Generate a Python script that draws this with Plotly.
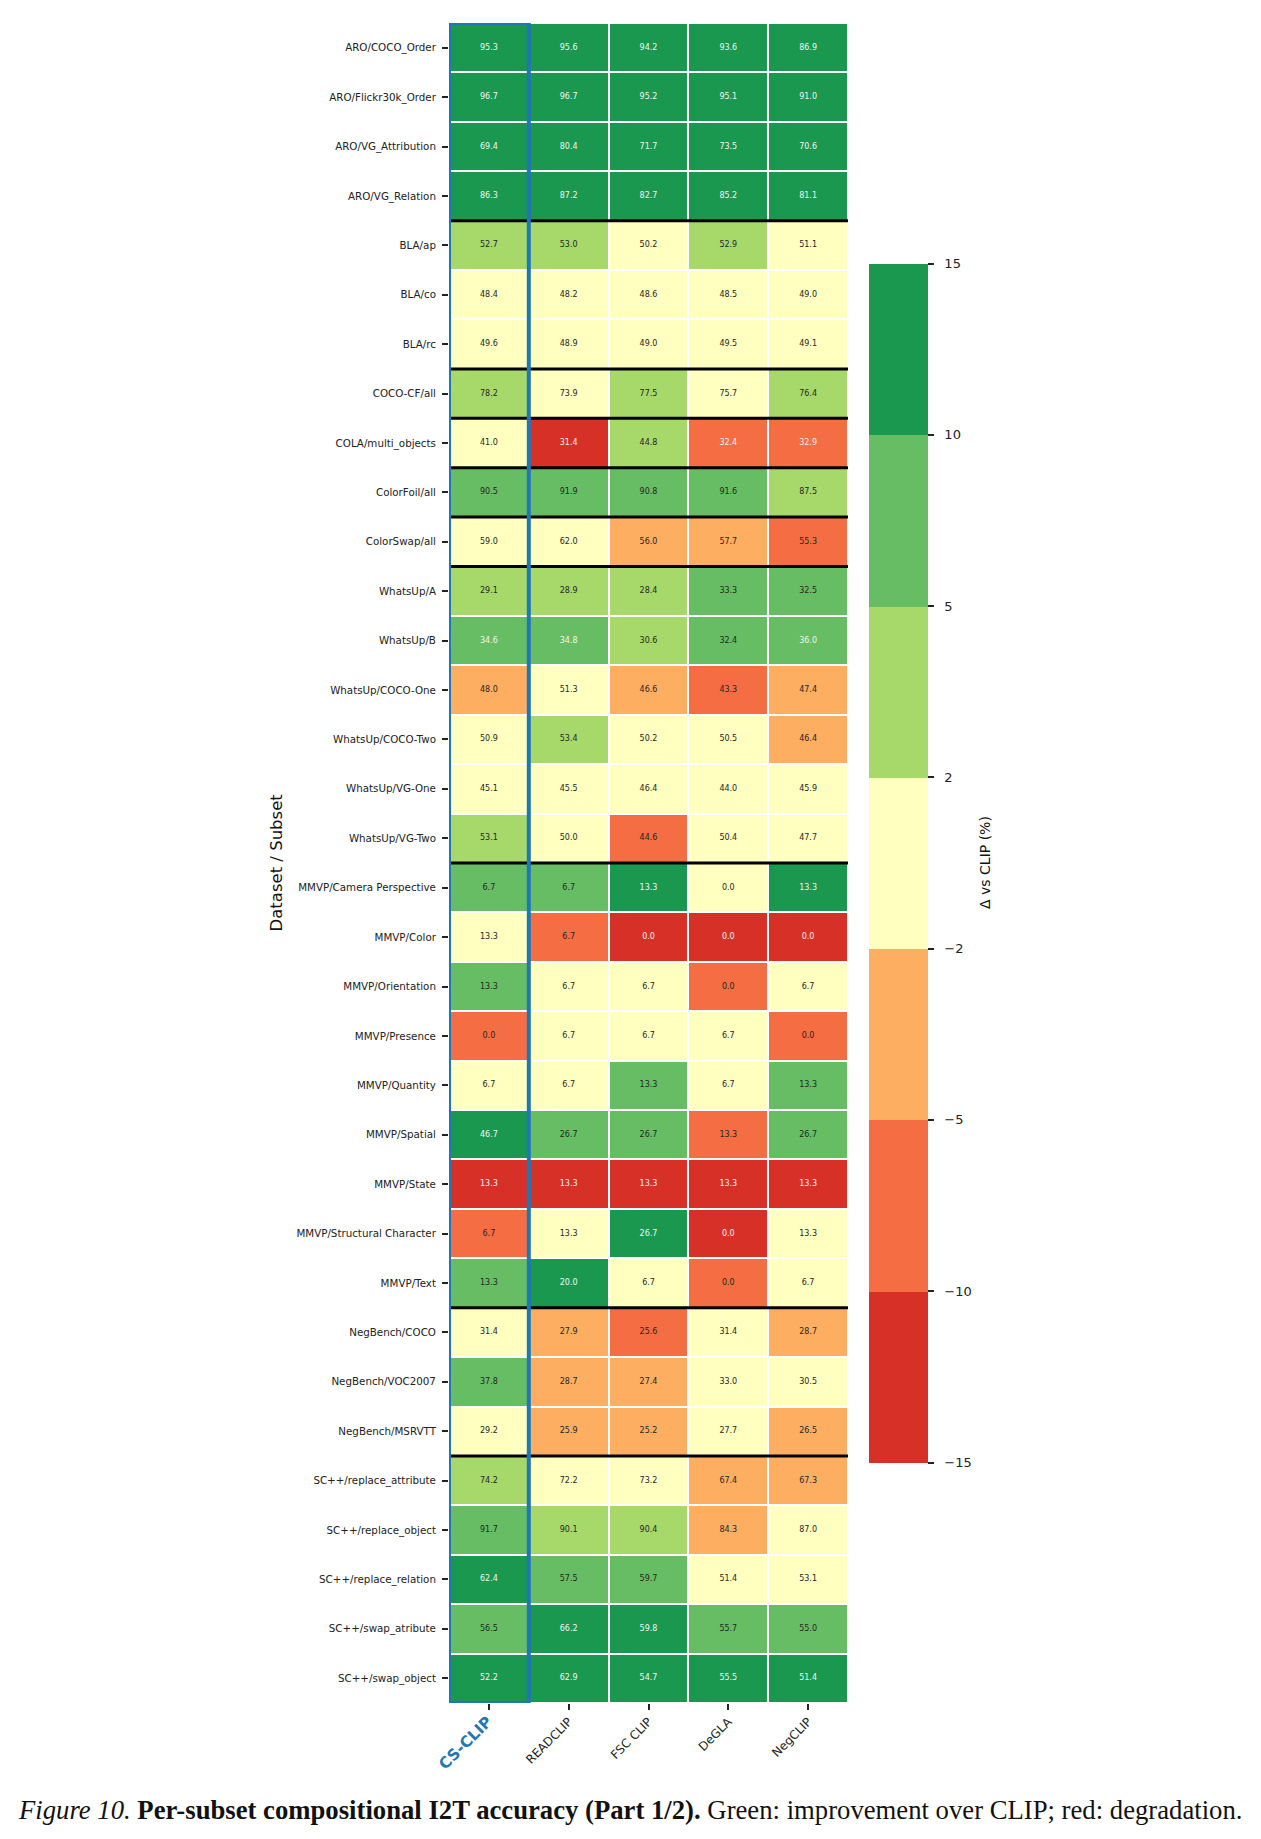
import numpy as np
import plotly.graph_objects as go

models = ["CS-CLIP", "READCLIP", "FSC CLIP", "DeGLA", "NegCLIP"]
model_labels = ["<span style='color:#1f77b4;font-size:15.5px'><b>CS-CLIP</b></span>",
                "READCLIP", "FSC CLIP", "DeGLA", "NegCLIP"]

subsets = [
    "ARO/COCO_Order", "ARO/Flickr30k_Order", "ARO/VG_Attribution", "ARO/VG_Relation",
    "BLA/ap", "BLA/co", "BLA/rc",
    "COCO-CF/all", "COLA/multi_objects", "ColorFoil/all", "ColorSwap/all",
    "WhatsUp/A", "WhatsUp/B", "WhatsUp/COCO-One", "WhatsUp/COCO-Two",
    "WhatsUp/VG-One", "WhatsUp/VG-Two",
    "MMVP/Camera Perspective", "MMVP/Color", "MMVP/Orientation", "MMVP/Presence",
    "MMVP/Quantity", "MMVP/Spatial", "MMVP/State", "MMVP/Structural Character", "MMVP/Text",
    "NegBench/COCO", "NegBench/VOC2007", "NegBench/MSRVTT",
    "SC++/replace_attribute", "SC++/replace_object", "SC++/replace_relation",
    "SC++/swap_atribute", "SC++/swap_object",
]

# accuracy (%) per model column: CS-CLIP, READCLIP, FSC CLIP, DeGLA, NegCLIP
cs_clip = [95.3, 96.7, 69.4, 86.3, 52.7, 48.4, 49.6, 78.2, 41.0, 90.5, 59.0,
           29.1, 34.6, 48.0, 50.9, 45.1, 53.1,
           6.7, 13.3, 13.3, 0.0, 6.7, 46.7, 13.3, 6.7, 13.3,
           31.4, 37.8, 29.2, 74.2, 91.7, 62.4, 56.5, 52.2]
readclip = [95.6, 96.7, 80.4, 87.2, 53.0, 48.2, 48.9, 73.9, 31.4, 91.9, 62.0,
            28.9, 34.8, 51.3, 53.4, 45.5, 50.0,
            6.7, 6.7, 6.7, 6.7, 6.7, 26.7, 13.3, 13.3, 20.0,
            27.9, 28.7, 25.9, 72.2, 90.1, 57.5, 66.2, 62.9]
fsc_clip = [94.2, 95.2, 71.7, 82.7, 50.2, 48.6, 49.0, 77.5, 44.8, 90.8, 56.0,
            28.4, 30.6, 46.6, 50.2, 46.4, 44.6,
            13.3, 0.0, 6.7, 6.7, 13.3, 26.7, 13.3, 26.7, 6.7,
            25.6, 27.4, 25.2, 73.2, 90.4, 59.7, 59.8, 54.7]
degla = [93.6, 95.1, 73.5, 85.2, 52.9, 48.5, 49.5, 75.7, 32.4, 91.6, 57.7,
         33.3, 32.4, 43.3, 50.5, 44.0, 50.4,
         0.0, 0.0, 0.0, 6.7, 6.7, 13.3, 13.3, 0.0, 0.0,
         31.4, 33.0, 27.7, 67.4, 84.3, 51.4, 55.7, 55.5]
negclip = [86.9, 91.0, 70.6, 81.1, 51.1, 49.0, 49.1, 76.4, 32.9, 87.5, 55.3,
           32.5, 36.0, 47.4, 46.4, 45.9, 47.7,
           13.3, 0.0, 6.7, 0.0, 13.3, 26.7, 13.3, 13.3, 6.7,
           28.7, 30.5, 26.5, 67.3, 87.0, 53.1, 55.0, 51.4]

# estimated CLIP baseline accuracy per subset
clip_base = [47.9, 59.0, 59.0, 59.9, 50.0, 48.5, 49.0, 74.0, 42.0, 85.0, 60.6,
             26.1, 26.2, 50.4, 50.0, 45.2, 49.65,
             0.0, 13.3, 6.7, 6.7, 6.7, 20.0, 26.7, 13.3, 6.7,
             31.5, 31.8, 29.0, 71.8, 86.5, 52.3, 49.4, 41.0]

group_sizes = [4, 3, 1, 1, 1, 1, 6, 9, 3, 5]  # ARO, BLA, COCO-CF, COLA, ColorFoil, ColorSwap, WhatsUp, MMVP, NegBench, SC++

bounds = [-15, -10, -5, -2, 2, 5, 10, 15]
bound_labels = ["\u221215", "\u221210", "\u22125", "\u22122", "2", "5", "10", "15"]
bin_colors = ["#d73027", "#f46d43", "#fdae61", "#ffffbf", "#a6d96a", "#66bd63", "#1a9850"]

acc = np.array([cs_clip, readclip, fsc_clip, degla, negclip]).T  # rows x models
delta = acc - np.array(clip_base)[:, None]
bins = np.digitize(delta, bounds[1:-1]).astype(float) + 0.5  # 0.5 .. 6.5

nb = len(bin_colors)
colorscale = []
for i, c in enumerate(bin_colors):
    colorscale.append([i / nb, c])
    colorscale.append([(i + 1) / nb, c])

fig = go.Figure()
fig.add_trace(go.Heatmap(
    z=bins, x=models, y=subsets,
    zmin=0, zmax=nb, colorscale=colorscale,
    xgap=2, ygap=2, hoverinfo="skip",
    colorbar=dict(
        tickvals=list(range(nb + 1)),
        ticktext=["\u00a0\u00a0" + t for t in bound_labels],
        thickness=59, thicknessmode="pixels",
        len=1199, lenmode="pixels",
        x=(869 - 449) / 399, xanchor="left", xpad=0,
        y=0.5, yanchor="middle", ypad=0,
        outlinewidth=0, ticks="outside", ticklen=6, tickwidth=1.5,
        tickcolor="#222", tickfont=dict(family="DejaVu Sans", size=13, color="#222"),
    ),
))

# cell labels
xs, ys, txt, cols = [], [], [], []
for r, name in enumerate(subsets):
    for c, m in enumerate(models):
        xs.append(m)
        ys.append(name)
        txt.append(f"{acc[r, c]:.1f}")
        cols.append("#f4f4f4" if abs(delta[r, c]) > 7.5 else "#262626")
fig.add_trace(go.Scatter(
    x=xs, y=ys, mode="text", text=txt,
    textfont=dict(family="DejaVu Sans", size=8, color=cols),
    hoverinfo="skip", showlegend=False,
))

# group separators
shapes = []
pos = 0
for g in group_sizes[:-1]:
    pos += g
    shapes.append(dict(type="line", xref="x", yref="y", x0=-0.5, x1=len(models) - 0.5,
                       y0=pos - 0.5, y1=pos - 0.5, line=dict(color="black", width=3)))
shapes.append(dict(type="rect", xref="x", yref="y", x0=-0.5, x1=0.5, y0=-0.5,
                   y1=len(subsets) - 0.5, line=dict(color="#1f77b4", width=4)))

fig.update_layout(
    width=1261, height=1839,
    margin=dict(l=449, r=413, t=23, b=136, autoexpand=False),
    paper_bgcolor="white", plot_bgcolor="white",
    shapes=shapes,
    font=dict(family="DejaVu Sans", color="#222"),
    xaxis=dict(tickvals=models, ticktext=model_labels, tickangle=-45, automargin=False,
               ticks="outside", ticklen=6, tickwidth=1.5, tickcolor="#222",
               tickfont=dict(size=12, color="#222"), showgrid=False, zeroline=False,
               range=[-0.5, len(models) - 0.5]),
    yaxis=dict(range=[len(subsets) - 0.5, -0.5], autorange=False,
               ticks="outside", ticklen=6, tickwidth=1.5, automargin=False,
               tickcolor="#222", tickfont=dict(size=10.3, color="#222"),
               ticklabelstandoff=4, showgrid=False, zeroline=False),
    annotations=[
        dict(text="Dataset / Subset", xref="paper", yref="paper",
             x=(264 - 449) / 399, y=0.5, textangle=-90, showarrow=False,
             font=dict(family="DejaVu Sans", size=16.5, color="#111")),
        dict(text="\u0394 vs CLIP (%)", xref="paper", yref="paper",
             x=(995 - 449) / 399, y=0.5, textangle=-90, showarrow=False,
             font=dict(family="DejaVu Sans", size=14, color="#111")),
        dict(text="<i>Figure 10.</i> <b>Per-subset compositional I2T accuracy (Part 1/2).</b> "
                  "Green: improvement over CLIP; red: degradation.",
             xref="paper", yref="paper", x=(16 - 449) / 399, xanchor="left",
             y=(1703 - 1810) / 1680, yanchor="middle", showarrow=False,
             font=dict(family="Liberation Serif", size=26.7, color="#111")),
    ],
)

fig.write_html("out.html")
